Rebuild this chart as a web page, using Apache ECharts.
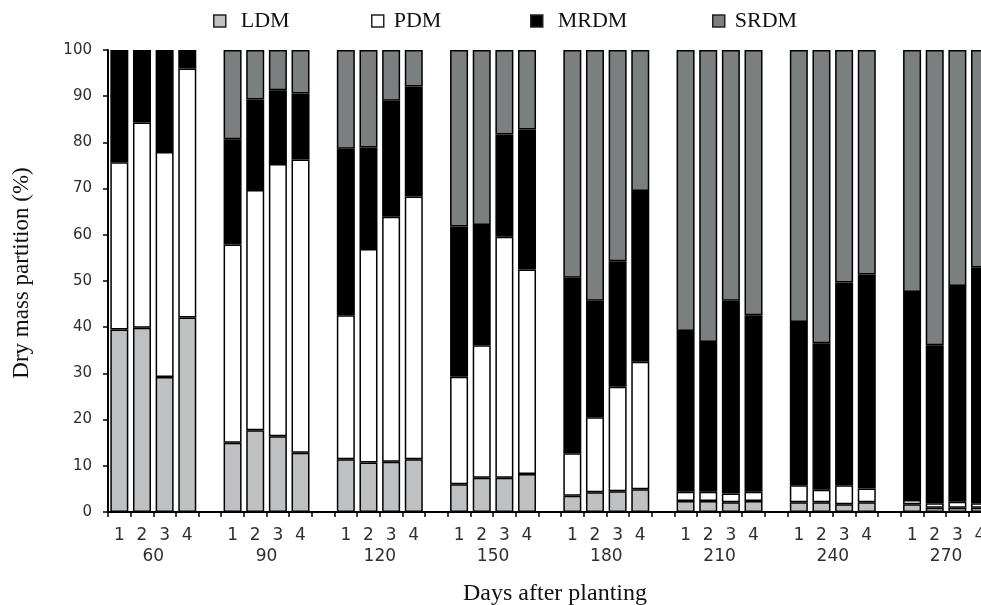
<!DOCTYPE html>
<html>
<head>
<meta charset="utf-8">
<script src="https://cdn.jsdelivr.net/npm/echarts@6/dist/echarts.min.js"></script>
<style>html,body{margin:0;padding:0;background:#fff;}#c{width:981px;height:605px;}</style>
</head>
<body>
<div id="c"></div>
<script>
// Days after planting (groups) and treatment labels within each group
const days = ['60', '90', '120', '150', '180', '210', '240', '270'];
const treatments = ['1', '2', '3', '4'];

// Dry mass partition (%) per bar, in order: 60-1..60-4, 90-1..90-4, ...
const LDM = [39.5, 39.9, 29.2, 42.1, 15.0, 17.7, 16.4, 12.8, 11.4, 10.7, 10.9, 11.4, 6.0, 7.4, 7.4, 8.2,
             3.5, 4.3, 4.5, 4.9, 2.4, 2.4, 2.1, 2.4, 2.1, 2.1, 1.7, 2.1, 1.7, 0.9, 0.9, 0.9];
const PDM = [36.2, 44.4, 48.7, 53.9, 42.9, 52.0, 58.9, 63.5, 31.2, 46.2, 53.0, 56.9, 23.3, 28.7, 52.2, 44.3,
             9.2, 16.2, 22.6, 27.6, 2.0, 2.0, 1.9, 2.0, 3.7, 2.7, 4.1, 3.0, 0.9, 1.0, 1.3, 1.0];
const MRDM = [24.3, 15.7, 22.1, 4.0, 22.8, 19.6, 16.0, 14.3, 36.0, 22.0, 25.1, 23.8, 32.5, 26.0, 22.1, 30.3,
              38.0, 25.2, 27.2, 37.0, 34.8, 32.4, 41.7, 38.2, 35.3, 31.7, 43.9, 46.3, 45.0, 34.2, 46.7, 51.0];
const SRDM = [null, null, null, null, 19.3, 10.7, 8.7, 9.4, 21.4, 21.1, 11.0, 7.9, 38.2, 37.9, 18.3, 17.2,
              49.3, 54.3, 45.7, 30.5, 60.8, 63.2, 54.3, 57.4, 58.9, 63.5, 50.3, 48.6, 52.4, 63.9, 51.1, 47.1];

const yTicks = { min: 0, max: 100, interval: 10 };

// Build category slots: 4 bars + 1 empty slot per group
const slotLabels = [];
days.forEach(() => { treatments.forEach(t => slotLabels.push(t)); slotLabels.push(''); });
function toSlots(arr) {
  const out = [];
  days.forEach((d, g) => {
    for (let i = 0; i < treatments.length; i++) {
      const v = arr[g * treatments.length + i];
      out.push(v == null ? '-' : v);
    }
    out.push('-');
  });
  return out;
}
// Group labels on slot boundaries (41 boundary points)
const groupPoints = [];
for (let i = 0; i <= slotLabels.length; i++) groupPoints.push('');
days.forEach((d, g) => { groupPoints[g * 5 + 2] = d; });

const serif = '"Liberation Serif", "Times New Roman", serif';
const sans = '"DejaVu Sans", Verdana, sans-serif';

const names = ['LDM', 'PDM', 'MRDM', 'SRDM'];
const colors = ['#bfc0c1', '#ffffff', '#000000', '#7c7f80'];
const datas = [LDM, PDM, MRDM, SRDM];
const legendLeft = [213, 371, 530, 712];
const legendGap = [10, 5, 10, 5];

const chart = echarts.init(document.getElementById('c'), null, { renderer: 'canvas' });
chart.setOption({
  animation: false,
  backgroundColor: '#fff',
  legend: names.map((n, i) => ({
    data: [n], left: legendLeft[i], top: 10, padding: 0,
    itemWidth: 12, itemHeight: 12, icon: 'rect', selectedMode: false,
    itemStyle: { borderColor: '#222', borderWidth: 1.5 },
    textStyle: { fontFamily: serif, fontSize: 22, color: '#111', lineHeight: 22, padding: [0, 0, 0, legendGap[i]] }
  })),
  grid: { left: 108, top: 50, bottom: 93, right: -33, containLabel: false, outerBoundsMode: 'none' },
  xAxis: [{
    type: 'category', data: slotLabels, position: 'bottom',
    axisLine: { lineStyle: { color: '#000', width: 2 } },
    axisTick: { show: true, interval: 0, length: 5, lineStyle: { color: '#000', width: 1.5 } },
    axisLabel: { interval: 0, margin: 15, fontFamily: sans, fontSize: 17, color: '#2e2e33' },
    name: 'Days after planting', nameLocation: 'middle', nameGap: 70,
    nameTextStyle: { fontFamily: serif, fontSize: 24, color: '#111', padding: [0, 12, 0, 0] }
  }, {
    type: 'category', data: groupPoints, position: 'bottom', boundaryGap: false,
    axisLine: { show: false }, axisTick: { show: false },
    axisLabel: { interval: 0, margin: 36, fontFamily: sans, fontSize: 17, color: '#2e2e33' }
  }],
  yAxis: {
    type: 'value', min: yTicks.min, max: yTicks.max, interval: yTicks.interval,
    splitLine: { show: false },
    axisLine: { show: true, lineStyle: { color: '#000', width: 2 } },
    axisTick: { show: true, length: 5, lineStyle: { color: '#000', width: 1.5 } },
    axisLabel: { margin: 16, fontFamily: sans, fontSize: 15, color: '#2e2e33' },
    name: 'Dry mass partition (%)', nameLocation: 'middle', nameGap: 75,
    nameTextStyle: { fontFamily: serif, fontSize: 23, color: '#111', padding: [0, 0, 0, 16] }
  },
  series: names.map((n, i) => ({
    name: n, type: 'bar', stack: 'dm', xAxisIndex: 0, barWidth: 18,
    data: toSlots(datas[i]),
    itemStyle: { color: colors[i], borderColor: '#000', borderWidth: 1.5 }
  }))
});
</script>
</body>
</html>
